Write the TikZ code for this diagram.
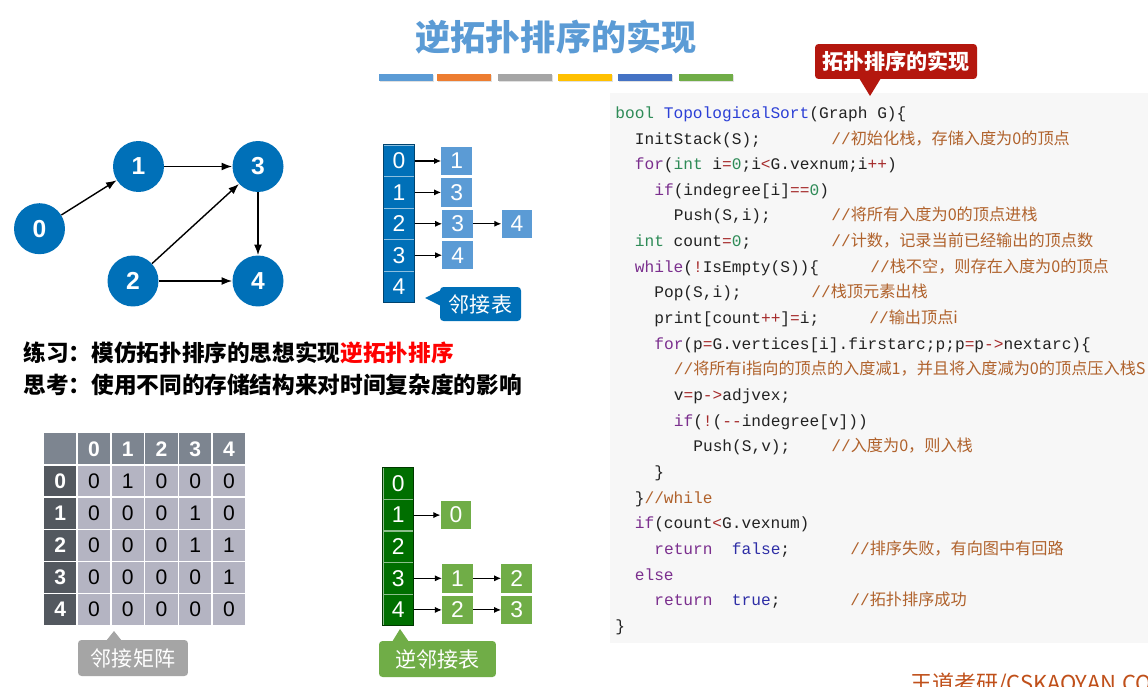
\documentclass[tikz,border=0pt]{standalone}
\usepackage{fontspec}
\setmainfont{Liberation Sans}
\setmonofont{Liberation Mono}
\newfontfamily\cjk{Noto Sans CJK SC}
\usetikzlibrary{arrows.meta,positioning}

\definecolor{nodeblue}{HTML}{0070B8}
\definecolor{listblue}{HTML}{5B9BD5}
\definecolor{arrgreen}{HTML}{006F00}
\definecolor{listgreen}{HTML}{70AD47}
\definecolor{calloutred}{HTML}{B4170E}
\definecolor{headgray}{HTML}{7D8590}
\definecolor{rowgray}{HTML}{53585F}
\definecolor{cellgray}{HTML}{B4B4C2}
\definecolor{taggray}{HTML}{A5A5A5}
\definecolor{codebg}{HTML}{F7F7F7}
\definecolor{codeink}{HTML}{222222}
\definecolor{kwpurple}{HTML}{7B2F8E}
\definecolor{tygreen}{HTML}{2E8B57}
\definecolor{fnblue}{HTML}{2B3FD6}
\definecolor{opred}{HTML}{A52A2A}
\definecolor{ctblue}{HTML}{2E2EA6}
\definecolor{cmbrown}{HTML}{B0622C}
\definecolor{titleblue}{HTML}{5B9BD5}
\definecolor{wmred}{HTML}{C0501A}
\definecolor{barA}{HTML}{5B9BD5}
\definecolor{barB}{HTML}{ED7D31}
\definecolor{barC}{HTML}{A5A5A5}
\definecolor{barD}{HTML}{FFC000}
\definecolor{barE}{HTML}{4472C4}
\definecolor{barF}{HTML}{70AD47}

\newcommand\kw[1]{\textcolor{kwpurple}{#1}}
\newcommand\ty[1]{\textcolor{tygreen}{#1}}
\newcommand\fn[1]{\textcolor{fnblue}{#1}}
\newcommand\op[1]{\textcolor{opred}{#1}}
\newcommand\ct[1]{\textcolor{ctblue}{#1}}
\newcommand\cm[1]{\textcolor{cmbrown}{//{\cjk #1}}}

\begin{document}
\begin{tikzpicture}[x=0.02cm,y=-0.02cm,
  vtx/.style={circle,fill=nodeblue,text=white,minimum size=1.02cm,inner sep=0pt,font=\bfseries\fontsize{14}{14}\selectfont},
  arc/.style={-{Latex[length=6pt,width=4.5pt]},line width=0.8pt},
  ptr/.style={-{Latex[length=4pt,width=3.5pt]},line width=0.6pt},
  hcell/.style={minimum width=0.61cm,minimum height=0.628cm,inner sep=0pt,text=white,line width=0.4pt,font=\fontsize{13}{13}\selectfont},
  lbox/.style={minimum width=0.61cm,minimum height=0.57cm,inner sep=0pt,text=white,font=\fontsize{13}{13}\selectfont},
  mcell/.style={draw=white,line width=0.7pt,minimum width=0.674cm,minimum height=0.644cm,inner sep=0pt,font=\fontsize{12}{12}\selectfont},
  mhead/.style={mcell,text=white,font=\bfseries\fontsize{12}{12}\selectfont},
  tag/.style={text=white,inner sep=0pt,rounded corners=2pt,font=\cjk\fontsize{12}{12}\selectfont},
  code/.style={anchor=west,inner sep=0pt,text height=7pt,text depth=2pt,text=codeink,font=\ttfamily\fontsize{9.2}{11}\selectfont},
  ]
\useasboundingbox (0,0) rectangle (1148,686);
\fill[white] (0,0) rectangle (1148,686);

\node[font=\cjk\bfseries\fontsize{20}{20}\selectfont,text=titleblue] (ttl) at (556,37) {逆拓扑排序的实现};
\foreach \x/\c in {379/barA,437/barB,498/barC,558/barD,618/barE,679/barF}{
  \fill[black!12] (\x+1,75.5) rectangle ++(54,7);
  \fill[\c] (\x,74) rectangle ++(54,7);
}

% graph
\node[vtx] (v0) at (39.5,228.7) {0};
\node[vtx] (v1) at (138.5,166.5) {1};
\node[vtx] (v3) at (258,166.5) {3};
\node[vtx] (v2) at (133,281) {2};
\node[vtx] (v4) at (258,281) {4};
\draw[arc] (v0) -- (v1);
\draw[arc] (v1) -- (v3);
\draw[arc] (v2) -- (v3);
\draw[arc] (v2) -- (v4);
\draw[arc] (v3) -- (v4);

% adjacency list
\foreach \i in {0,...,4}
  \node[hcell,fill=nodeblue,draw=white!55!nodeblue] (a\i) at (399,{161+31.4*\i}) {\i};
\draw[nodeblue!60!black,line width=0.6pt] (a0.north west) rectangle (a4.south east);
\node[lbox,fill=listblue,right=0.53cm of a0] (a0a) {1};
\node[lbox,fill=listblue,right=0.53cm of a1] (a1a) {3};
\node[lbox,fill=listblue,right=0.55cm of a2] (a2a) {3};
\node[lbox,fill=listblue,right=0.56cm of a2a] (a2b) {4};
\node[lbox,fill=listblue,right=0.55cm of a3] (a3a) {4};
\draw[ptr] (a0) -- (a0a);
\draw[ptr] (a1) -- (a1a);
\draw[ptr] (a2) -- (a2a);
\draw[ptr] (a2a) -- (a2b);
\draw[ptr] (a3) -- (a3a);
\node[tag,fill=nodeblue,minimum width=1.62cm,minimum height=0.68cm] (t1) at (480.5,304) {邻接表};
\fill[nodeblue] (441,290) -- (425,298) -- (441,306) -- cycle;

\node[anchor=west,inner sep=0pt,font=\cjk\bfseries\fontsize{12.9}{13}\selectfont] (ex1) at (23,353) {练习：模仿拓扑排序的思想实现\textcolor{red}{逆拓扑排序}};
\node[anchor=west,inner sep=0pt,font=\cjk\bfseries\fontsize{12.9}{13}\selectfont] (ex2) at (23,385) {思考：使用不同的存储结构来对时间复杂度的影响};

% adjacency matrix
\node[mcell,fill=headgray] (hc) at (60.2,448.8) {};
\foreach \c in {0,...,4}
  \node[mhead,fill=headgray] (h\c) at ({94+33.75*\c},448.8) {\c};
\foreach \r/\vals in {0/{0,1,0,0,0},1/{0,0,0,1,0},2/{0,0,0,1,1},3/{0,0,0,0,1},4/{0,0,0,0,0}}{
  \node[mhead,fill=rowgray] (r\r) at (60.2,{481+32.17*\r}) {\r};
  \foreach \v [count=\c from 0] in \vals
    \node[mcell,fill=cellgray] (m\r\c) at ({94+33.75*\c},{481+32.17*\r}) {\v};
}
\node[tag,fill=taggray,minimum width=2.2cm,minimum height=0.72cm] (t2) at (133,658) {邻接矩阵};
\fill[taggray] (106,641) -- (114,631) -- (122,641) -- cycle;

% inverse adjacency list
\foreach \i in {0,...,4}
  \node[hcell,fill=arrgreen,draw=white!55!arrgreen] (g\i) at (398.3,{483.5+31.6*\i}) {\i};
\draw[arrgreen!50!black,line width=0.6pt] (g0.north west) rectangle (g4.south east);
\node[lbox,fill=listgreen,right=0.53cm of g1] (g1a) {0};
\node[lbox,fill=listgreen,right=0.56cm of g3] (g3a) {1};
\node[lbox,fill=listgreen,right=0.56cm of g3a] (g3b) {2};
\node[lbox,fill=listgreen,right=0.56cm of g4] (g4a) {2};
\node[lbox,fill=listgreen,right=0.56cm of g4a] (g4b) {3};
\draw[ptr] (g1) -- (g1a);
\draw[ptr] (g3) -- (g3a);
\draw[ptr] (g3a) -- (g3b);
\draw[ptr] (g4) -- (g4a);
\draw[ptr] (g4a) -- (g4b);
\node[tag,fill=listgreen,minimum width=2.34cm,minimum height=0.72cm] (t3) at (437.5,659) {逆邻接表};
\fill[listgreen] (392,642) -- (400,629) -- (409,642) -- cycle;

% code
\fill[codebg] (610,93) rectangle (1148,643);
\node[tag,fill=calloutred,minimum width=3.24cm,minimum height=0.7cm,font=\cjk\bfseries\fontsize{12}{12}\selectfont] (t4) at (896,61.5) {拓扑排序的实现};
\fill[calloutred] (859,78) -- (870,96) -- (881,78) -- cycle;
\node[code] (c1) at (615,114) {\ty{bool} \fn{TopologicalSort}(Graph G)\{};
\node[code] (c2) at (634.5,139.65) {InitStack(S);};
\node[code] (k2) at (831,139.65) {\cm{初始化栈，存储入度为0的顶点}};
\node[code] (c3) at (634.5,165.3) {\kw{for}(\ty{int} i\op{=}\ty{0};i\op{<}G.vexnum;i\op{++})};
\node[code] (c4) at (654,190.95) {\kw{if}(indegree[i]\op{==}\ty{0})};
\node[code] (c5) at (673.5,216.6) {Push(S,i);};
\node[code] (k5) at (831,216.6) {\cm{将所有入度为0的顶点进栈}};
\node[code] (c6) at (634.5,242.25) {\ty{int} count\op{=}\ty{0};};
\node[code] (k6) at (831,242.25) {\cm{计数，记录当前已经输出的顶点数}};
\node[code] (c7) at (634.5,267.9) {\kw{while}(\op{!}IsEmpty(S))\{};
\node[code] (k7) at (870,267.9) {\cm{栈不空，则存在入度为0的顶点}};
\node[code] (c8) at (654,293.55) {Pop(S,i);};
\node[code] (k8) at (811,293.55) {\cm{栈顶元素出栈}};
\node[code] (c9) at (654,319.2) {print[count\op{++}]\op{=}i;};
\node[code] (k9) at (869,319.2) {\cm{输出顶点i}};
\node[code] (c10) at (654,344.85) {\kw{for}(p\op{=}G.vertices[i].firstarc;p;p\op{=}p\op{->}nextarc)\{};
\node[code] (c11) at (673.5,370.5) {\cm{将所有i指向的顶点的入度减1，并且将入度减为0的顶点压入栈S}};
\node[code] (c12) at (673.5,396.15) {v\op{=}p\op{->}adjvex;};
\node[code] (c13) at (673.5,421.8) {\kw{if}(\op{!}(\op{-{}-}indegree[v]))};
\node[code] (c14) at (693,447.45) {Push(S,v);};
\node[code] (k14) at (831,447.45) {\cm{入度为0，则入栈}};
\node[code] (c15) at (654,473.1) {\}};
\node[code] (c16) at (634.5,498.75) {\}\textcolor{cmbrown}{//while}};
\node[code] (c17) at (634.5,524.4) {\kw{if}(count\op{<}G.vexnum)};
\node[code] (c18) at (654,550.05) {\kw{return}\ \ \ct{false};};
\node[code] (k18) at (850,550.05) {\cm{排序失败，有向图中有回路}};
\node[code] (c19) at (634.5,575.7) {\kw{else}};
\node[code] (c20) at (654,601.35) {\kw{return}\ \ \ct{true};};
\node[code] (k20) at (850,601.35) {\cm{拓扑排序成功}};
\node[code] (c21) at (615,627) {\}};

\node[anchor=north west,inner sep=0pt,text=wmred,font=\cjk\fontsize{12.5}{13}\selectfont] (wm) at (910,673) {王道考研/CSKAOYAN.COM};
\end{tikzpicture}
\end{document}
